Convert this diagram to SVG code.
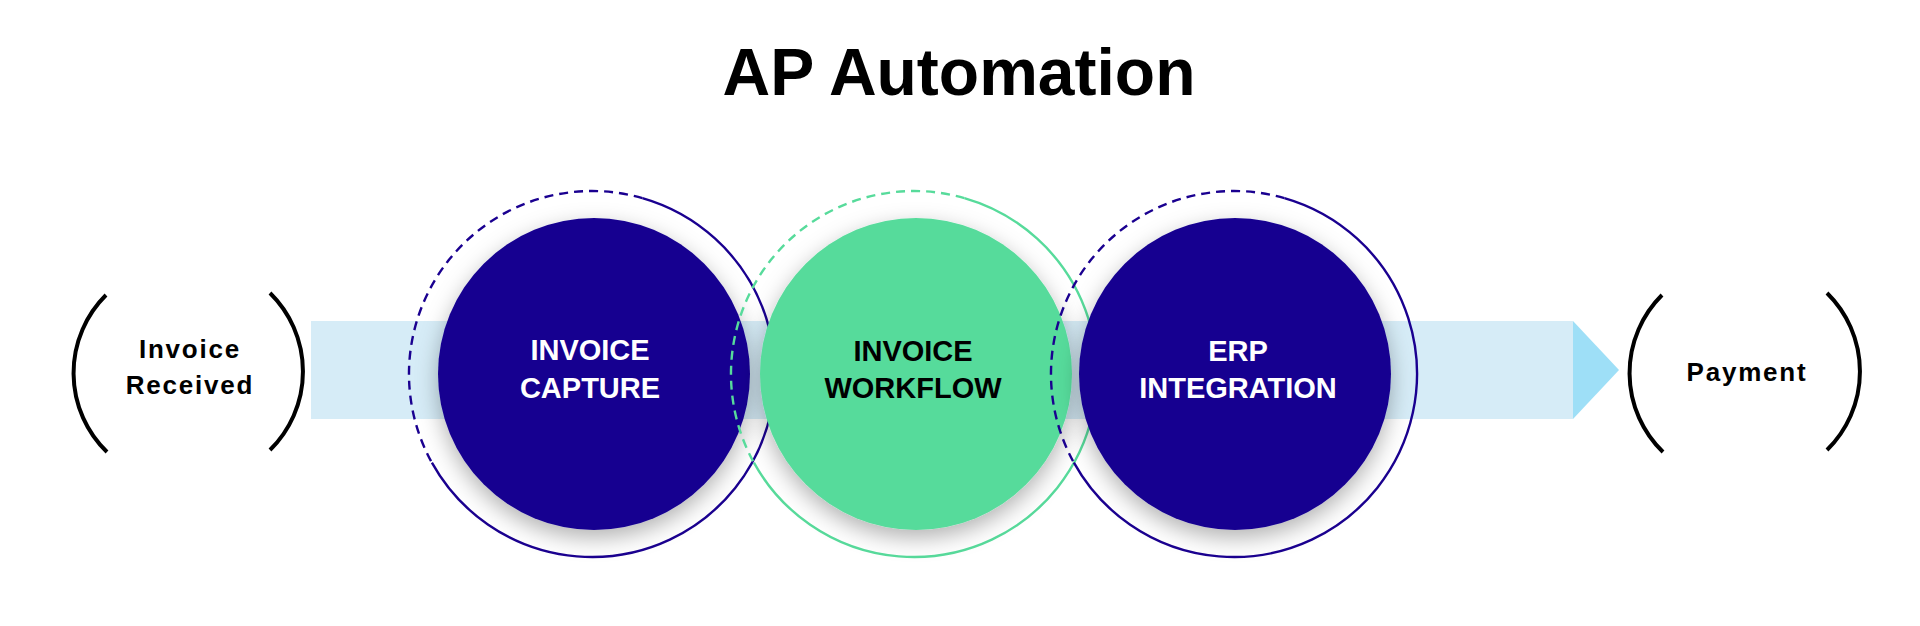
<svg xmlns="http://www.w3.org/2000/svg" width="1920" height="626" viewBox="0 0 1920 626">
<defs>
<filter id="sh" x="-30%" y="-30%" width="160%" height="170%">
<feDropShadow dx="0" dy="8" stdDeviation="11" flood-color="#000" flood-opacity="0.3"/>
</filter>
<style>
.title{font-family:"Liberation Sans",Arial,sans-serif;font-weight:bold;font-size:66px;fill:#000;text-anchor:middle}
.end{font-family:"Liberation Sans",Arial,sans-serif;font-weight:bold;font-size:26px;letter-spacing:1.8px;fill:#000;text-anchor:middle}
.lbl{font-family:"Liberation Sans",Arial,sans-serif;font-weight:bold;font-size:29px;text-anchor:middle}
.paren{fill:none;stroke:#000;stroke-width:4}
.ringD{fill:none;stroke:#1A0090;stroke-width:2.4}
.ringG{fill:none;stroke:#57DB9B;stroke-width:2.4}
.dash{stroke-dasharray:9 6}
.dark{fill:#170090}
.green{fill:#57DB9B}
</style>
</defs>
<rect width="1920" height="626" fill="#fff"/>
<text class="title" x="959" y="95">AP Automation</text>

<g id="connectors">
<rect x="311" y="321" width="1262" height="98" fill="#D6ECF7"/>
<polygon points="1573,321 1619,370 1573,419" fill="#9EDFF7"/>
</g>

<g id="start">
<path class="paren" d="M106,295 A110,110 0 0 0 107,452"/>
<path class="paren" d="M270,293 A110,110 0 0 1 270,450"/>
<text class="end" x="190" y="358">Invoice</text>
<text class="end" x="190" y="394">Received</text>
</g>

<g id="capture">
<path class="ringD dash" d="M642.4,198.1 A183,183 0 0 0 431.9,462.7"/>
<path class="ringD" d="M642.4,198.1 A183,183 0 1 1 431.9,462.7"/>
<circle class="dark" cx="594" cy="374" r="156" filter="url(#sh)"/>
<text class="lbl" x="590" y="360" fill="#fff">INVOICE</text>
<text class="lbl" x="590" y="398" fill="#fff">CAPTURE</text>
</g>

<g id="workflow">
<path class="ringG dash" d="M964.4,198.1 A183,183 0 0 0 753.9,462.7"/>
<path class="ringG" d="M964.4,198.1 A183,183 0 1 1 753.9,462.7"/>
<circle class="green" cx="916" cy="374" r="156" filter="url(#sh)"/>
<text class="lbl" x="913" y="361" fill="#000">INVOICE</text>
<text class="lbl" x="913" y="398" fill="#000">WORKFLOW</text>
</g>

<g id="erp">
<path class="ringD dash" d="M1284.4,198.1 A183,183 0 0 0 1073.9,462.7"/>
<path class="ringD" d="M1284.4,198.1 A183,183 0 1 1 1073.9,462.7"/>
<circle class="dark" cx="1235" cy="374" r="156" filter="url(#sh)"/>
<text class="lbl" x="1238" y="361" fill="#fff">ERP</text>
<text class="lbl" x="1238" y="398" fill="#fff">INTEGRATION</text>
</g>

<g id="payment">
<path class="paren" d="M1662,295 A110,110 0 0 0 1663,452"/>
<path class="paren" d="M1827,293 A110,110 0 0 1 1827,450"/>
<text class="end" x="1747" y="381">Payment</text>
</g>
</svg>
